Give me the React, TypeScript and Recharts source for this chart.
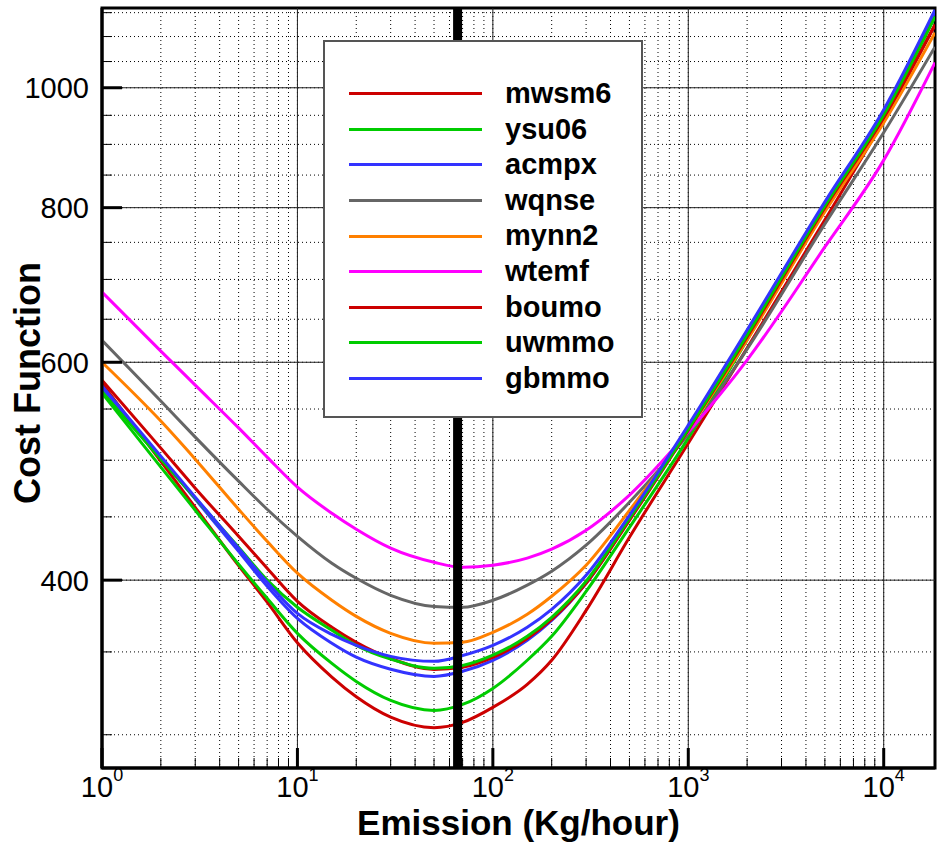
import {
  LineChart,
  Line,
  XAxis,
  YAxis,
  CartesianGrid,
  ReferenceLine,
  ReferenceArea,
  Legend,
} from "recharts";

// emission samples (Kg/hour)
const emission = [1, 2, 3, 5, 7, 10, 15, 20, 30, 50, 70, 100, 150, 200, 300, 500, 1000, 2000, 5000, 10000, 18300];

// cost function per scheme
const mwsm6 = [577, 499, 458, 411, 384, 356, 334, 322, 310, 304, 307, 315.7, 329.5, 344.6, 378.1, 433.2, 516, 616, 782, 942, 1124];
const ysu06 = [566.5, 493.6, 455.6, 412, 386.7, 362.3, 342.6, 331.3, 319.8, 313.9, 317.4, 327, 344.6, 360.3, 391.7, 441.3, 521, 625.4, 796.7, 951, 1141.6];
const acmpx = [571.8, 502, 465.1, 422.1, 395.5, 372.5, 355.7, 346.6, 338.9, 334.4, 337.6, 344.6, 357.6, 371.1, 397.7, 448, 530.8, 633.7, 806, 954.5, 1152];
const wqnse = [625, 558.2, 522, 480.9, 456.4, 434, 412.8, 401.4, 388.9, 380.9, 380.3, 385.3, 396.3, 406.7, 426.9, 462.4, 524.9, 614.9, 776.2, 920, 1079];
const mynn2 = [600, 537.8, 501, 456.4, 430, 405.2, 385.3, 373.9, 362.3, 355.7, 356.3, 363, 375.4, 388.2, 411.3, 455.5, 528.8, 625.4, 794, 937, 1108];
const wtemf = [683.8, 612.6, 575, 531, 502.9, 475.6, 453, 439.7, 424.5, 413.5, 409.7, 411.3, 416.7, 423.7, 438.9, 468.6, 527, 602.5, 743.6, 874, 1048];
const boumo = [580.4, 511.4, 474.7, 434, 408.9, 384.5, 366.4, 356.3, 345.8, 338.8, 340.1, 346.4, 358.9, 371.8, 397.7, 447.1, 528.8, 628.9, 800, 945.7, 1124.5];
const uwmmo = [568, 501, 465.9, 425.3, 400, 380.3, 364.4, 354.3, 345.3, 339.5, 341.3, 347.9, 360.3, 373.3, 399.2, 448.8, 529.8, 631.3, 803, 951, 1141.6];
const gbmmo = [574, 503.8, 466.8, 424.5, 398.4, 376, 361.6, 354.3, 347.1, 343.9, 347.7, 354.3, 366.4, 378.8, 403.6, 451.3, 533.8, 637.2, 808.7, 960, 1156];

const seriesNames = ["mwsm6", "ysu06", "acmpx", "wqnse", "mynn2", "wtemf", "boumo", "uwmmo", "gbmmo"];
const seriesValues = [mwsm6, ysu06, acmpx, wqnse, mynn2, wtemf, boumo, uwmmo, gbmmo];
const seriesColors = ["#cc0000", "#00cc00", "#3333ff", "#666666", "#ff8000", "#ff00ff", "#cc0000", "#00cc00", "#3333ff"];

// axes
const xDomain = [1, 18300];
const yDomain = [282, 1160];
const xMajor = [1, 10, 100, 1000, 10000];
const xTicks = [
  1, 2, 3, 4, 5, 6, 7, 8, 9,
  10, 20, 30, 40, 50, 60, 70, 80, 90,
  100, 200, 300, 400, 500, 600, 700, 800, 900,
  1000, 2000, 3000, 4000, 5000, 6000, 7000, 8000, 9000,
  10000,
];
const yMajor = [400, 600, 800, 1000];
const yTicks = [300, 350, 400, 450, 500, 550, 600, 650, 700, 750, 800, 850, 900, 950, 1000, 1050, 1100, 1150];
const optimumEmission = 66;

const data = emission.map((e, i) => {
  const row: Record<string, number> = { e };
  seriesNames.forEach((name, s) => {
    row[name] = seriesValues[s][i];
  });
  return row;
});

const FONT = "'Liberation Sans', Arial, Helvetica, sans-serif";

function XTick(props: any) {
  const { x, y, payload } = props;
  const v = payload.value;
  const exp = Math.round(Math.log10(v));
  const major = xMajor.includes(v);
  return (
    <g>
      <line x1={x} x2={x} y1={y} y2={y - (major ? 20 : 10)} stroke="#000" strokeWidth={major ? 3 : 1} />
      {major && (
        <text x={x} y={y + 29} textAnchor="middle" fontFamily={FONT} fontSize={29} fill="#000">
          <tspan>10</tspan>
          <tspan dy={-16} fontSize={18}>
            {exp}
          </tspan>
        </text>
      )}
    </g>
  );
}

function YTick(props: any) {
  const { x, y, payload } = props;
  const major = yMajor.includes(payload.value);
  return (
    <g>
      <line x1={x} x2={x + (major ? 20 : 10)} y1={y} y2={y} stroke="#000" strokeWidth={major ? 3 : 1} />
      {major && (
        <text x={x - 13} y={y} dy="0.36em" textAnchor="end" fontFamily={FONT} fontSize={29} fill="#000">
          {payload.value}
        </text>
      )}
    </g>
  );
}

function YTitle(props: any) {
  const vb = props.viewBox || { x: 0, y: 8, width: 102, height: 760 };
  const cx = vb.x + 40;
  const cy = vb.y + vb.height / 2 - 5;
  return (
    <text
      x={cx}
      y={cy}
      transform={`rotate(-90, ${cx}, ${cy})`}
      textAnchor="middle"
      fontFamily={FONT}
      fontWeight="bold"
      fontSize={36}
      fill="#000"
    >
      Cost Function
    </text>
  );
}

function LegendBox() {
  return (
    <div
      style={{
        width: 320,
        height: 378,
        boxSizing: "border-box",
        border: "2px solid #555",
        background: "#fff",
        paddingTop: 34,
        fontFamily: FONT,
      }}
    >
      {seriesNames.map((name, i) => (
        <div key={name} style={{ display: "flex", alignItems: "center", height: 35.6 }}>
          <div style={{ marginLeft: 24, width: 133, height: 3, background: seriesColors[i] }} />
          <div style={{ marginLeft: 23, fontSize: 29, fontWeight: "bold", lineHeight: "35.6px", color: "#000" }}>
            {name}
          </div>
        </div>
      ))}
    </div>
  );
}

export default function App() {
  return (
    <div style={{ position: "absolute", left: 0, top: 0, width: 942, height: 843, background: "#fff" }}>
      <LineChart width={942} height={843} data={data} margin={{ top: 8, right: 7, bottom: 0, left: 0 }}>
        <CartesianGrid stroke="#000" strokeDasharray="1 3" />
        <XAxis
          dataKey="e"
          type="number"
          scale="log"
          domain={xDomain}
          allowDataOverflow
          ticks={xTicks}
          interval={0}
          height={75}
          tickLine={false}
          tickSize={0}
          tickMargin={0}
          tick={<XTick />}
          axisLine={{ stroke: "#000", strokeWidth: 3 }}
          label={{
            value: "Emission (Kg/hour)",
            position: "insideBottom",
            offset: 8,
            style: { fontFamily: FONT, fontWeight: "bold", fontSize: 35, fill: "#000" },
          }}
        />
        <YAxis
          type="number"
          scale="log"
          domain={yDomain}
          allowDataOverflow
          ticks={yTicks}
          interval={0}
          width={102}
          tickLine={false}
          tickSize={0}
          tickMargin={0}
          tick={<YTick />}
          axisLine={{ stroke: "#000", strokeWidth: 3 }}
          label={(p: any) => <YTitle {...p} />}
        />
        {xMajor.map((v) => (
          <ReferenceLine key={`xm${v}`} x={v} stroke="#222" strokeWidth={1} />
        ))}
        {yMajor.map((v) => (
          <ReferenceLine key={`ym${v}`} y={v} stroke="#222" strokeWidth={1} />
        ))}
        {seriesNames.map((name, i) => (
          <Line
            key={name}
            type="monotone"
            dataKey={name}
            stroke={seriesColors[i]}
            strokeWidth={3}
            dot={false}
            activeDot={false}
            isAnimationActive={false}
          />
        ))}
        <ReferenceLine x={optimumEmission} stroke="#000" strokeWidth={9} />
        <ReferenceArea
          x1={xDomain[0]}
          x2={xDomain[1]}
          y1={yDomain[0]}
          y2={yDomain[1]}
          fill="none"
          stroke="#000"
          strokeWidth={3}
        />
        <Legend
          layout="vertical"
          align="center"
          verticalAlign="middle"
          wrapperStyle={{ left: 323, top: 40, width: 320, height: 378 }}
          content={() => <LegendBox />}
        />
      </LineChart>
    </div>
  );
}
